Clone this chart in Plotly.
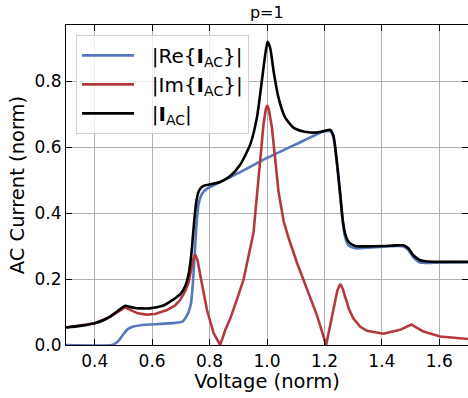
import plotly.graph_objects as go

# |I_AC|
v_abs = [0.30, 0.35, 0.40, 0.43, 0.455, 0.48, 0.495, 0.507, 0.52, 0.54, 0.56, 0.59, 0.62, 0.645,
         0.665, 0.685, 0.70, 0.715, 0.727, 0.736, 0.742, 0.748, 0.755, 0.762, 0.772, 0.785, 0.803,
         0.837, 0.872, 0.907, 0.942, 0.965, 0.982, 0.994, 1.002, 1.011, 1.023, 1.040, 1.063, 1.092,
         1.127, 1.150, 1.17, 1.20, 1.22, 1.2315, 1.243, 1.255, 1.264, 1.272, 1.284, 1.307, 1.35,
         1.405, 1.45, 1.475, 1.492, 1.51, 1.533, 1.56, 1.60, 1.70]
i_abs = [0.053, 0.058, 0.066, 0.075, 0.087, 0.103, 0.113, 0.119, 0.116, 0.112, 0.111, 0.111, 0.115, 0.122,
         0.133, 0.145, 0.156, 0.178, 0.215, 0.27, 0.33, 0.39, 0.44, 0.465, 0.478, 0.484, 0.487,
         0.494, 0.512, 0.547, 0.609, 0.69, 0.80, 0.881, 0.919, 0.901, 0.830, 0.75, 0.69, 0.659,
         0.647, 0.644, 0.644, 0.649, 0.652, 0.634, 0.559, 0.458, 0.378, 0.338, 0.313, 0.300, 0.299,
         0.300, 0.302, 0.302, 0.293, 0.272, 0.257, 0.253, 0.252, 0.252]

# |Re{I_AC}|
v_re = [0.30, 0.46, 0.472, 0.485, 0.50, 0.515, 0.535, 0.56, 0.63, 0.68, 0.705, 0.718, 0.727, 0.7355,
        0.741, 0.747, 0.754, 0.762, 0.774, 0.791, 0.814, 0.85, 0.90, 1.00, 1.10, 1.19, 1.205, 1.22,
        1.2315, 1.243, 1.255, 1.264, 1.272, 1.284, 1.307, 1.35, 1.405, 1.45, 1.475, 1.492, 1.51,
        1.533, 1.56, 1.60, 1.70]
i_re = [0.0, 0.0, 0.005, 0.015, 0.033, 0.048, 0.056, 0.060, 0.064, 0.067, 0.071, 0.085, 0.100, 0.127,
        0.177, 0.257, 0.358, 0.428, 0.459, 0.474, 0.484, 0.500, 0.521, 0.567, 0.608, 0.645, 0.648, 0.648,
        0.628, 0.553, 0.450, 0.370, 0.327, 0.302, 0.293, 0.295, 0.298, 0.300, 0.299, 0.288, 0.266,
        0.250, 0.249, 0.250, 0.251]

# |Im{I_AC}|
v_im = [0.30, 0.40, 0.455, 0.49, 0.505, 0.52, 0.55, 0.58, 0.61, 0.652, 0.68, 0.698, 0.715, 0.727,
        0.7355, 0.744, 0.750, 0.758, 0.773, 0.791, 0.814, 0.837, 0.855, 0.872, 0.896, 0.918, 0.953,
        0.965, 0.977, 0.988, 0.996, 1.001, 1.006, 1.017, 1.029, 1.040, 1.058, 1.075, 1.104, 1.139,
        1.174, 1.206, 1.2315, 1.245, 1.255, 1.264, 1.272, 1.285, 1.301, 1.325, 1.348, 1.405, 1.4635,
        1.49, 1.503, 1.515, 1.5445, 1.603, 1.70]
i_im = [0.053, 0.066, 0.086, 0.107, 0.114, 0.108, 0.096, 0.092, 0.094, 0.106, 0.120, 0.137, 0.163, 0.190,
        0.227, 0.262, 0.274, 0.257, 0.187, 0.106, 0.036, 0.0, 0.046, 0.080, 0.140, 0.197, 0.340,
        0.460, 0.560, 0.670, 0.715, 0.727, 0.715, 0.660, 0.560, 0.465, 0.375, 0.325, 0.250, 0.170,
        0.090, 0.0, 0.106, 0.165, 0.185, 0.170, 0.147, 0.110, 0.080, 0.055, 0.043, 0.034, 0.046,
        0.057, 0.062, 0.056, 0.041, 0.026, 0.018]

x_ticks = [0.4, 0.6, 0.8, 1.0, 1.2, 1.4, 1.6]
y_ticks = [0.0, 0.2, 0.4, 0.6, 0.8]

BLUE = "#5577bb"
RED = "#b4393d"
BLACK = "#000000"
PAD = "\u00a0\u00a0"

fig = go.Figure()
fig.add_trace(go.Scatter(x=v_re, y=i_re, mode="lines", name=PAD + "|Re{<b>I</b><sub>AC</sub>}|",
                         line=dict(color=BLUE, width=2.6, shape="spline", smoothing=0.6)))
fig.add_trace(go.Scatter(x=v_im, y=i_im, mode="lines", name=PAD + "|Im{<b>I</b><sub>AC</sub>}|",
                         line=dict(color=RED, width=2.6)))
fig.add_trace(go.Scatter(x=v_abs, y=i_abs, mode="lines", name=PAD + "|<b>I</b><sub>AC</sub>|",
                         line=dict(color=BLACK, width=2.6, shape="spline", smoothing=0.6)))

axis_common = dict(
    showline=True, linecolor="black", linewidth=1.2, mirror="all",
    ticks="inside", ticklen=6, tickwidth=1.2, tickcolor="black",
    showgrid=True, gridcolor="#b0b0b0", gridwidth=1,
    zeroline=False, automargin=False,
    tickfont=dict(family="DejaVu Sans", size=17, color="black"),
)

fig.update_layout(
    width=468, height=398,
    margin=dict(l=66, r=0, t=25, b=53),
    paper_bgcolor="white", plot_bgcolor="white",
    font=dict(family="DejaVu Sans", color="black"),
    title=dict(text="p=1", x=0.57, xanchor="center", y=0.97, yanchor="middle",
               font=dict(family="DejaVu Sans", size=16, color="black")),
    xaxis=dict(range=[0.3, 1.7], tickvals=x_ticks, ticktext=[f"{v:.1f}" for v in x_ticks],
               title=dict(text="Voltage (norm)", font=dict(size=19.5), standoff=3), **axis_common),
    yaxis=dict(range=[0.0, 0.97], tickvals=y_ticks, ticktext=[f"{v:.1f}" for v in y_ticks],
               title=dict(text="AC Current (norm)", font=dict(size=19.5), standoff=4), **axis_common),
    legend=dict(x=0.025, y=0.969, xanchor="left", yanchor="top",
                bgcolor="rgba(255,255,255,0.8)", bordercolor="#d0d0d0", borderwidth=1,
                font=dict(family="DejaVu Sans", size=20, color="black"),
                itemwidth=52),
    showlegend=True,
)

fig.write_html("out.html", config={"displayModeBar": False},
               post_script="document.body.style.margin='0';")
